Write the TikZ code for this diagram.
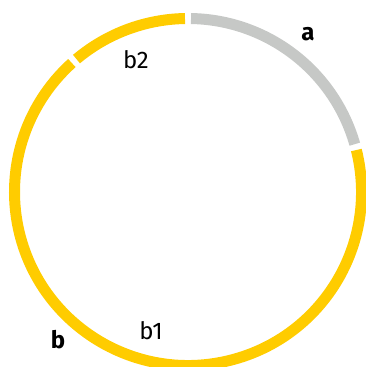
\documentclass[tikz,border=0pt]{standalone}
\usepackage{fontspec}
\setmainfont{Fira Sans}
\usetikzlibrary{calc}
\definecolor{arcgray}{HTML}{C6C8C6}
\definecolor{arcyellow}{HTML}{FFCC00}
\begin{document}
\begin{tikzpicture}[x=1pt,y=1pt,
  ring/.style={line width=11pt,line cap=butt},
  lbl/.style={font=\fontsize{24}{28}\selectfont,inner sep=0pt},
  blbl/.style={lbl,font=\fontsize{24}{28}\selectfont\bfseries}]
\useasboundingbox (0,0) rectangle (366,367);
\coordinate (c) at (188,175);
\def\R{173.5}
\draw[ring,arcgray] ($(c)+(89:\R)$) arc[start angle=89,end angle=16,radius=\R];
\draw[ring,arcyellow] ($(c)+(14:\R)$) arc[start angle=14,end angle=-228,radius=\R];
\draw[ring,arcyellow] ($(c)+(130:\R)$) arc[start angle=130,end angle=91,radius=\R];
\node[blbl] (a) at (308,333) {a};
\node[lbl] (b2) at (136,307) {b2};
\node[lbl] (b1) at (151,36) {b1};
\node[blbl] (b) at (58,27) {b};
\end{tikzpicture}
\end{document}
